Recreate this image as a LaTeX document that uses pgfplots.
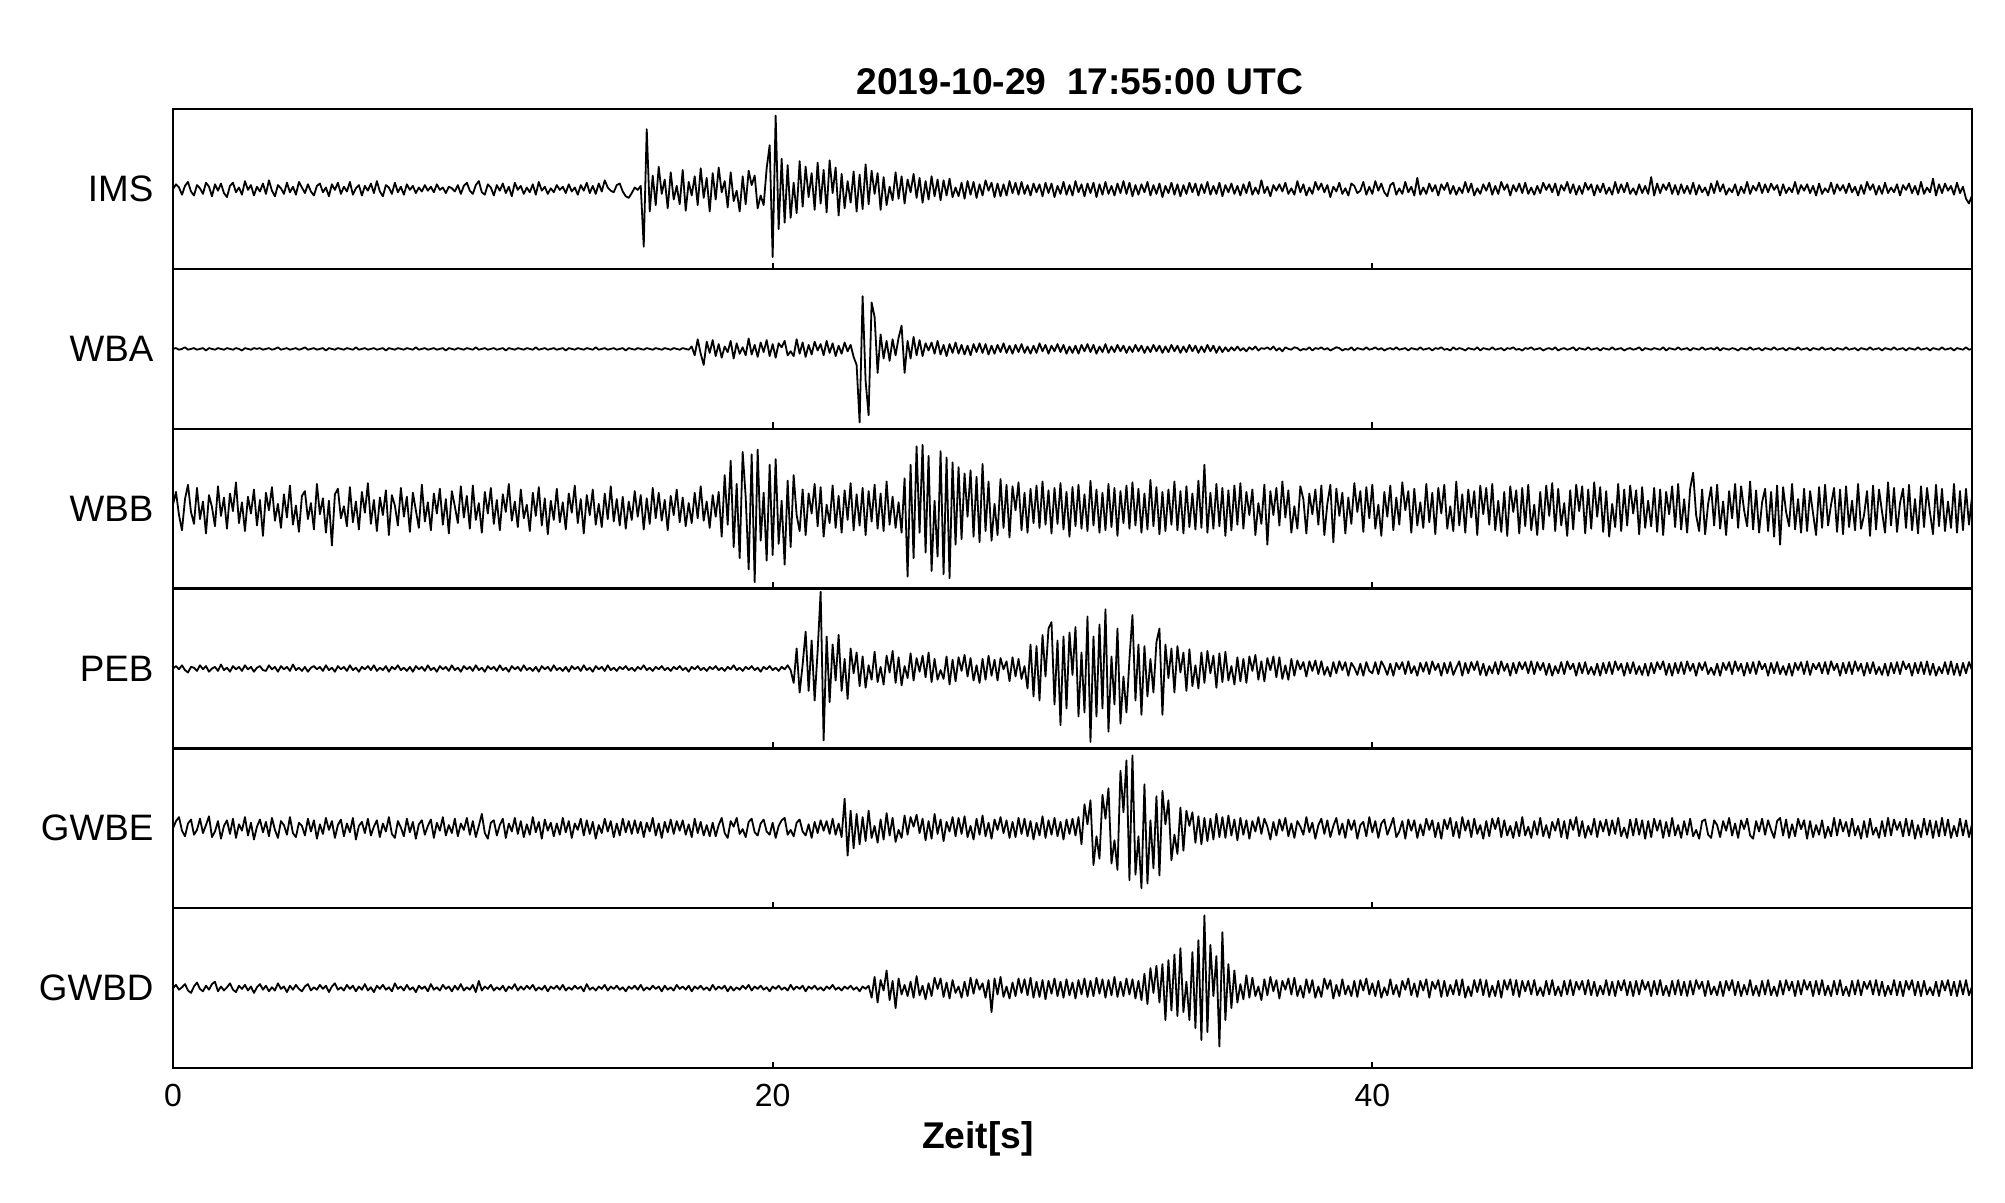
\documentclass[border=0pt]{standalone}
\usepackage{pgfplots}
\usepackage{pgfplotstable}
\pgfplotsset{compat=1.18}
\usepackage{fontspec}
\setmainfont{Liberation Sans}

% seismogram samples, every 0.1 s, amplitudes in % of half panel height
\pgfplotstableread{
t ims wba wbb peb gwbe gwbd
0.0 0 0 5 0 0 0
0.1 6 1 21 3 9 4
0.2 2 -1 -8 -1 14 -2
0.3 -7 0 -27 4 -3 1
0.4 4 2 12 -2 -10 5
0.5 9 -1 30 -5 6 -3
0.6 -3 0 -4 2 11 -6
0.7 -8 1 -19 1 -8 2
0.8 5 -1 26 -3 -2 7
0.9 1 0 -13 4 12 -1
1.0 -6 1 9 -1 -6 -4
1.1 8 -2 -31 3 4 3
1.2 3 1 17 -4 15 -2
1.3 -9 0 2 0 -11 5
1.4 6 -1 -22 2 -4 8
1.5 -2 1 28 -3 9 -4
1.6 7 0 -9 5 -13 2
1.7 -5 -1 14 -2 3 -3
1.8 -10 1 -25 1 10 1
1.9 4 0 19 -4 -7 6
2.0 8 -1 -3 3 12 -2
2.1 -4 1 33 -1 -12 -5
2.2 2 0 -18 2 5 3
2.3 -7 -2 8 -3 -3 -1
2.4 10 1 -28 4 14 4
2.5 -1 0 15 -1 -9 -3
2.6 5 -1 -6 2 7 2
2.7 -8 1 24 -4 -14 -6
2.8 3 0 -21 1 2 1
2.9 -3 1 11 3 11 5
3.0 7 -1 -34 -2 -5 -2
3.1 -6 0 20 -3 8 3
3.2 11 1 -2 4 -10 -4
3.3 -2 -1 27 -1 13 1
3.4 -9 0 -15 2 -2 -3
3.5 5 2 6 -4 -12 6
3.6 1 -1 -24 3 9 -1
3.7 -6 0 18 -1 4 2
3.8 8 1 -11 2 -8 -5
3.9 -4 -1 29 -3 14 3
4.0 3 0 -20 5 -6 -2
4.1 -7 1 4 -2 -11 4
4.2 9 -1 -29 1 7 -1
4.3 2 0 16 -3 3 -4
4.4 -5 2 22 2 -9 2
4.5 6 -1 -13 -4 12 5
4.6 -3 0 7 1 -4 -3
4.7 -8 1 -26 3 10 1
4.8 4 -1 31 -1 -13 -2
4.9 7 0 -7 2 5 4
5.0 -4 1 13 -3 -7 -1
5.1 2 -2 -30 4 13 3
5.2 -9 1 10 -2 -2 -5
5.3 6 0 -46 1 9 2
5.4 -1 -1 18 -4 -12 6
5.5 8 1 25 3 4 -2
5.6 -6 0 -12 -1 11 1
5.7 3 -1 3 2 -10 -3
5.8 -3 1 -22 -3 6 4
5.9 9 0 27 4 -5 -1
6.0 -7 -1 -17 -2 13 3
6.1 1 2 9 1 -14 -4
6.2 5 -1 -26 -4 3 2
6.3 -8 0 21 2 8 -2
6.4 4 1 -5 -1 -6 5
6.5 -2 -1 32 3 12 -3
6.6 7 0 -19 -2 -9 1
6.7 -5 1 11 4 2 -5
6.8 10 -1 -28 -3 10 3
6.9 -3 0 14 1 -11 -1
7.0 -9 1 -8 -2 6 4
7.1 5 -2 23 3 -4 -2
7.2 2 1 -33 -4 14 1
7.3 -6 0 17 2 -7 -4
7.4 8 -1 4 -1 -12 6
7.5 -4 1 -21 4 9 -1
7.6 3 0 26 -2 1 2
7.7 -7 -1 -10 1 -10 -3
7.8 6 1 15 -3 12 4
7.9 -1 0 -29 2 -5 -2
8.0 4 -1 20 -4 8 1
8.1 -5 2 -2 3 -13 -5
8.2 2 -1 -24 -1 5 3
8.3 -3 0 30 2 10 -1
8.4 5 1 -16 -3 -8 2
8.5 -2 -1 8 4 3 -4
8.6 3 0 -27 -2 11 5
8.7 -4 1 19 1 -12 -2
8.8 6 -1 -6 -4 7 1
8.9 -1 0 25 3 -3 -3
9.0 2 1 -20 -1 14 4
9.1 -5 -2 12 2 -9 -1
9.2 3 1 -31 -3 4 2
9.3 1 0 22 4 -6 -4
9.4 -3 -1 3 -2 12 3
9.5 5 1 -18 1 -10 -2
9.6 -6 0 28 -4 6 5
9.7 4 -1 -11 3 -2 -3
9.8 8 1 16 -1 13 1
9.9 -2 0 -25 2 -8 -2
10.0 -6 -1 29 -3 9 4
10.1 5 2 -14 4 -11 -5
10.2 10 -1 7 -2 3 9
10.3 -4 0 -30 1 18 -3
10.4 -7 1 21 -4 -6 2
10.5 6 -1 -6 3 -13 -1
10.6 2 0 26 -1 7 4
10.7 -8 1 -19 2 10 -3
10.8 5 -1 11 -3 -9 1
10.9 -2 0 -27 4 4 -2
11.0 7 1 18 -2 12 3
11.1 -5 -2 -4 1 -12 -4
11.2 3 1 31 -4 6 2
11.3 -9 0 -15 3 -4 -1
11.4 8 -1 9 -1 13 5
11.5 -1 1 -23 2 -7 -3
11.6 4 0 24 -3 9 2
11.7 -6 -1 -12 4 -11 -2
11.8 2 1 5 -2 5 3
11.9 -4 0 -28 1 -8 -1
12.0 6 -1 20 -3 14 4
12.1 -7 2 -9 2 -5 -3
12.2 9 -1 27 -4 8 1
12.3 -2 0 -21 3 -13 -2
12.4 3 1 13 -1 11 3
12.5 -6 -1 -32 2 -3 -4
12.6 1 0 10 -3 7 2
12.7 -4 1 -14 4 -10 -1
12.8 5 -1 25 -2 6 3
12.9 -1 0 -17 1 -8 -2
13.0 3 1 8 -3 13 4
13.1 -5 -2 -26 2 -5 -3
13.2 6 1 19 -4 9 1
13.3 -3 0 -5 3 -12 -2
13.4 2 -1 29 -1 6 3
13.5 -7 1 -18 2 -2 -1
13.6 5 0 12 -3 12 2
13.7 -2 -1 -31 4 -9 -4
13.8 8 1 17 -2 10 5
13.9 -5 0 -8 1 -7 -2
14.0 4 -1 24 -4 8 1
14.1 -6 2 -20 3 -13 -3
14.2 7 -1 6 -1 4 2
14.3 -3 0 -23 2 -6 -1
14.4 11 1 19 -3 12 4
14.5 2 -1 -13 4 -4 -3
14.6 -2 0 28 -2 9 2
14.7 -4 1 -16 1 -11 -1
14.8 5 -1 12 -3 6 3
14.9 7 0 -21 2 -9 -2
15.0 -3 1 15 -1 12 1
15.1 -9 -2 -25 3 -5 -4
15.2 -11 1 9 -2 9 2
15.3 -5 0 -14 1 -7 -1
15.4 2 -1 22 -3 10 3
15.5 -1 1 -10 2 -6 -2
15.6 4 0 17 -1 8 4
15.7 -72 -1 -26 4 -11 -3
15.8 75 1 13 -2 7 1
15.9 -28 0 -19 1 -4 -2
16.0 17 -1 26 -3 13 3
16.1 -20 1 -12 2 -9 -1
16.2 28 0 20 -1 6 2
16.3 -6 -1 -15 3 -12 -4
16.4 12 1 11 -2 8 3
16.5 -24 0 -27 1 -5 -2
16.6 21 -1 16 -3 11 1
16.7 -13 1 -8 2 -7 -3
16.8 4 0 24 -1 9 4
16.9 -19 -1 -17 3 -3 -1
17.0 24 1 14 -2 10 2
17.1 -27 0 -22 1 -8 -2
17.2 9 -1 7 -4 5 3
17.3 -8 3 -18 2 -11 -4
17.4 16 -8 20 -1 12 2
17.5 -20 12 -12 3 -6 -1
17.6 26 -6 28 -2 8 3
17.7 -11 -20 -15 1 -9 -2
17.8 14 9 9 -3 4 1
17.9 -28 -5 -24 2 -10 -3
18.0 20 11 17 -1 7 4
18.1 -13 -9 -10 3 -10 -2
18.2 27 6 21 -2 4 2
18.3 -4 -11 -35 1 13 -1
18.4 10 3 42 -3 -6 3
18.5 -23 -4 -20 2 -12 -4
18.6 21 10 60 -1 9 2
18.7 -15 -12 -48 4 2 -3
18.8 -2 7 31 -2 13 1
18.9 -28 -6 -62 1 -7 -2
19.0 16 2 71 -3 -1 3
19.1 -19 -8 15 2 -11 -1
19.2 23 13 -76 -1 8 4
19.3 5 -7 68 3 12 -3
19.4 17 5 -92 -2 -5 2
19.5 -24 -10 74 1 -9 -1
19.6 -8 8 -40 -4 6 3
19.7 -20 -4 20 2 11 -2
19.8 26 11 -65 -1 -4 1
19.9 55 -9 55 3 -8 -4
20.0 -85 6 -58 -2 7 2
20.1 92 -11 62 1 -12 -1
20.2 -50 7 -44 -3 3 3
20.3 38 2 10 2 10 -2
20.4 -42 10 -70 -1 13 1
20.5 30 -8 35 4 -8 -3
20.6 -36 -3 -48 -2 -2 4
20.7 8 -9 42 -18 -10 -2
20.8 -30 12 -8 25 7 2
20.9 35 -6 -28 -30 11 -1
21.0 -22 8 24 5 -4 3
21.1 28 -10 -33 46 -9 -4
21.2 -10 5 19 -28 5 2
21.3 20 -7 -6 35 -12 -1
21.4 -26 9 31 -40 8 3
21.5 33 -2 -22 22 -6 -2
21.6 -18 6 27 96 10 1
21.7 24 -8 -35 -90 -3 -3
21.8 -29 10 5 40 9 2
21.9 36 -5 -18 -42 -7 -1
22.0 -5 7 29 30 12 4
22.1 27 -9 -24 -15 -8 -2
22.2 -33 4 16 42 6 1
22.3 19 -6 -30 -28 -11 -3
22.4 -24 8 23 12 37 2
22.5 10 -3 -14 -38 -34 -1
22.6 -17 5 32 25 22 3
22.7 22 -10 -27 -6 -25 -2
22.8 -28 -20 18 20 18 1
22.9 18 -92 -21 -22 -20 -4
23.0 -25 66 26 15 14 2
23.1 31 -40 -33 -24 -16 -1
23.2 -19 -83 22 4 22 3
23.3 23 58 -16 -14 -12 -12
23.4 -6 40 30 21 3 14
23.5 20 -30 -25 -17 -18 -18
23.6 -26 18 19 2 11 10
23.7 15 -12 -28 -20 -14 -3
23.8 -20 10 34 16 19 22
23.9 3 -15 -20 -5 -9 -15
24.0 -14 12 15 22 13 9
24.1 21 -8 -24 -18 -17 -25
24.2 -12 14 8 14 -2 12
24.3 16 29 -30 -21 -12 -8
24.4 -18 -30 38 3 16 4
24.5 12 10 -85 -12 -8 -10
24.6 -4 -12 55 19 14 8
24.7 19 15 -62 -15 2 -12
24.8 -11 -8 78 13 17 15
24.9 14 11 -30 -4 -6 -9
25.0 -17 -9 80 16 12 3
25.1 10 7 -55 -11 -15 -14
25.2 -13 -2 66 20 9 6
25.3 16 8 -78 -17 -13 -10
25.4 -9 -6 10 12 18 13
25.5 12 10 -60 -14 -7 -1
25.6 -14 -7 72 -2 11 12
25.7 11 5 -82 -13 -16 -11
25.8 -8 -9 64 15 8 7
25.9 13 6 -87 -20 -4 -13
26.0 -10 -5 58 11 14 10
26.1 2 8 -45 -16 -10 -6
26.2 -9 -6 52 14 13 2
26.3 8 5 -38 -3 -7 -12
26.4 -12 -7 44 17 15 8
26.5 10 4 -10 -10 -11 -10
26.6 -7 -8 48 13 3 13
26.7 9 6 -35 -15 -14 -7
26.8 -11 -4 40 4 12 11
26.9 6 7 -42 -18 -8 -2
27.0 -8 -5 56 12 16 6
27.1 11 6 -28 -14 -10 -12
27.2 -2 -7 34 16 7 10
27.3 8 4 -40 -9 -13 -30
27.4 -10 -6 6 11 11 12
27.5 7 5 -33 -15 -2 -8
27.6 -9 -4 37 13 14 14
27.7 6 7 -24 -1 -6 -11
27.8 -8 -5 30 9 10 2
27.9 10 4 -36 -16 -12 -13
28.0 -5 -6 28 14 8 7
28.1 8 5 -2 -10 -11 -10
28.2 -7 -4 33 12 13 12
28.3 9 6 -27 -13 -7 -6
28.4 -6 -5 20 3 12 11
28.5 5 3 -30 -25 -10 -9
28.6 -8 -6 25 30 9 13
28.7 7 4 -18 -35 -14 -12
28.8 -4 -5 29 28 7 8
28.9 6 7 -24 -40 -9 -11
29.0 -9 -3 34 42 15 10
29.1 8 5 -20 -10 -12 -14
29.2 -5 -6 23 50 10 9
29.3 7 4 -31 58 -8 -7
29.4 -10 -3 26 -45 13 12
29.5 4 6 -19 35 -10 -10
29.6 -6 -4 32 -71 8 8
29.7 9 5 -26 40 -14 -12
29.8 -7 -6 21 -50 11 11
29.9 5 3 -35 45 -7 -9
30.0 -8 -5 27 -8 12 7
30.1 10 4 -22 52 -9 -13
30.2 -4 -6 30 -60 14 10
30.3 6 5 -25 20 -20 -8
30.4 -9 -3 18 -55 30 12
30.5 7 6 -28 65 5 -11
30.6 -5 -4 35 -92 35 9
30.7 8 5 -21 40 -46 -10
30.8 -10 -6 24 -60 -10 13
30.9 6 3 -30 55 -38 -7
31.0 -7 -4 20 -50 42 11
31.1 9 6 -27 74 12 -12
31.2 -6 -5 31 -79 50 10
31.3 4 3 -23 15 -44 -9
31.4 -8 -4 26 -45 -15 14
31.5 7 5 -34 50 -52 -11
31.6 -5 -3 22 -69 72 8
31.7 10 4 -18 -10 20 -10
31.8 -6 -5 29 -55 85 12
31.9 8 3 -25 12 -65 -8
32.0 -9 -4 33 67 91 11
32.1 5 5 -21 -40 -58 -13
32.2 -7 -3 25 30 -10 9
32.3 6 4 -30 -58 -75 -15
32.4 -4 -5 19 28 55 18
32.5 9 3 -26 -35 -69 -20
32.6 -8 -4 36 12 10 25
32.7 5 5 -22 -30 -50 -6
32.8 -6 -3 27 33 40 28
32.9 7 4 -32 50 -59 -18
33.0 -10 -5 21 -58 47 30
33.1 4 3 -28 30 5 -40
33.2 -5 -4 24 -12 35 35
33.3 8 5 -20 25 -40 -28
33.4 -7 -3 34 -30 -8 42
33.5 6 4 -27 28 -32 -35
33.6 -9 -5 22 -5 26 50
33.7 5 3 -31 20 -28 -30
33.8 -6 -4 28 -28 22 8
33.9 8 5 -23 24 3 -40
34.0 -4 -3 19 -22 20 45
34.1 7 4 -26 4 -18 -50
34.2 -8 -5 35 -25 15 60
34.3 6 3 -24 20 -20 -65
34.4 -5 -4 55 -18 13 91
34.5 9 5 -30 22 -16 -55
34.6 -7 -3 20 -6 12 54
34.7 4 4 -25 16 -14 -10
34.8 -6 -5 31 -24 18 40
34.9 8 3 -22 19 -11 -73
35.0 -9 -4 26 -17 14 70
35.1 5 2 -34 21 -12 -40
35.2 -4 -3 23 -15 16 30
35.3 7 2 -27 3 -9 -25
35.4 -6 -2 29 -20 11 22
35.5 4 3 -20 14 -15 -18
35.6 -8 -2 32 -16 13 5
35.7 6 1 -25 12 -8 -14
35.8 -5 -3 21 -18 10 16
35.9 9 2 -8 15 -13 -12
36.0 -7 -1 24 -3 9 13
36.1 2 3 -33 17 -4 -10
36.2 -6 -2 7 -14 14 2
36.3 11 1 -19 9 -7 -15
36.4 -5 0 30 -16 12 11
36.5 3 2 -45 13 2 -9
36.6 -9 -1 22 -2 -14 14
36.7 5 3 -8 15 8 -4
36.8 -2 -2 26 -11 -9 10
36.9 6 1 -21 14 11 -13
37.0 -3 -3 34 -13 -3 9
37.1 8 2 -11 4 13 -2
37.2 -6 0 23 -14 -10 12
37.3 1 -1 -30 12 6 -8
37.4 -7 2 3 -9 -12 13
37.5 10 1 -25 10 9 -10
37.6 -4 -2 28 -1 2 3
37.7 6 0 12 8 -8 -12
37.8 -8 -1 -31 -10 14 11
37.9 2 2 19 9 -5 -6
38.0 -6 -2 -7 -3 7 10
38.1 9 1 24 10 -13 -12
38.2 -1 0 -20 -7 4 2
38.3 7 2 29 9 12 -11
38.4 -4 -1 -33 -8 -7 12
38.5 5 1 6 2 10 -1
38.6 -10 -2 30 -10 -11 10
38.7 3 0 -42 8 3 -13
38.8 -3 2 25 -6 13 4
38.9 8 1 -9 9 -8 -10
39.0 -6 -2 20 -2 6 11
39.1 1 0 -31 8 -12 -8
39.2 -8 -1 14 -9 11 3
39.3 7 2 -19 7 -2 -10
39.4 4 -2 32 1 10 9
39.5 -5 1 -4 -8 -13 -11
39.6 -2 0 22 6 4 10
39.7 9 -1 -29 -9 8 -3
39.8 -7 2 27 8 -10 12
39.9 3 -1 -12 -3 14 -8
40.0 -6 0 30 -6 -5 6
40.1 10 2 -25 8 9 -10
40.2 -2 -1 5 -7 -12 9
40.3 7 1 -34 9 6 -12
40.4 -4 -2 21 2 11 1
40.5 -9 0 -10 -8 -8 -9
40.6 5 1 29 6 2 11
40.7 8 -1 -27 -9 13 -8
40.8 -7 2 14 7 -11 4
40.9 1 -1 -20 -1 -4 -11
41.0 -6 0 33 8 9 9
41.1 9 1 -2 -7 -13 -2
41.2 -4 -2 22 9 11 12
41.3 3 1 -30 -6 -3 -9
41.4 -8 0 25 3 10 6
41.5 14 -1 -21 -9 -12 -11
41.6 -7 2 8 7 5 9
41.7 2 -1 -24 -4 -9 -3
41.8 -6 0 31 8 12 11
41.9 7 1 -17 -7 -2 -12
42.0 -3 -2 20 9 10 8
42.1 5 1 -32 -2 -11 -1
42.2 -8 0 26 6 7 10
42.3 6 2 -6 -9 -13 -11
42.4 -1 -1 30 7 11 9
42.5 8 0 -25 -6 -1 -10
42.6 -6 -2 3 8 13 4
42.7 4 2 -28 -8 -10 -8
42.8 -7 -1 34 1 8 10
42.9 2 1 -21 9 -12 -9
43.0 -5 0 18 -9 14 11
43.1 9 -2 -30 7 -3 -12
43.2 -4 1 24 -6 10 2
43.3 7 0 -11 8 -11 -10
43.4 -8 -1 22 -2 12 10
43.5 1 2 -33 9 -7 -5
43.6 -6 -2 29 -8 4 11
43.7 6 1 -7 6 -13 -9
43.8 -2 0 26 -9 9 10
43.9 8 -1 -20 3 -10 -11
44.0 -7 2 31 -6 12 3
44.1 4 -1 -27 8 -1 -10
44.2 -6 0 10 -7 13 9
44.3 9 1 -29 9 -11 -12
44.4 -1 -2 21 -3 10 10
44.5 6 1 -34 6 -9 -2
44.6 -8 0 28 -9 3 11
44.7 5 2 -4 7 -12 -9
44.8 -3 -1 23 -6 8 10
44.9 7 0 -31 8 -10 -11
45.0 -5 -2 26 -1 14 9
45.1 8 1 -22 8 -9 -4
45.2 -6 0 30 -6 2 9
45.3 2 2 -27 9 -12 -8
45.4 -7 -1 5 -7 9 10
45.5 4 0 -33 8 -8 -9
45.6 -5 1 21 -2 13 1
45.7 8 -2 -26 7 -10 -10
45.8 -1 0 29 -8 4 9
45.9 6 1 -9 6 -12 -8
46.0 -4 -1 32 -9 8 10
46.1 7 2 -28 3 -3 -9
46.2 -8 -2 25 -6 12 2
46.3 5 0 -21 8 -11 -10
46.4 -2 1 7 -7 9 9
46.5 9 -1 -34 9 -13 -8
46.6 -5 0 23 -1 11 10
46.7 6 2 -26 6 -2 -9
46.8 -7 -2 30 -9 14 8
46.9 4 1 -3 7 -10 -2
47.0 -6 0 28 -6 9 9
47.1 8 -1 -31 8 -12 -8
47.2 -1 2 24 -7 3 10
47.3 6 -1 -25 2 -8 -9
47.4 -8 0 33 -8 12 8
47.5 5 1 -10 6 -11 -10
47.6 -4 -2 27 -9 9 3
47.7 7 1 -29 7 -4 -8
47.8 -6 0 22 -6 11 10
47.9 2 -1 -35 8 -9 -9
48.0 -7 2 6 -7 10 8
48.1 9 -1 -23 9 -7 -10
48.2 -5 0 31 -2 13 9
48.3 6 1 -28 6 -10 -3
48.4 -4 -2 24 -9 1 10
48.5 8 0 -21 7 -12 -9
48.6 -6 1 29 -6 11 8
48.7 1 -1 -6 8 -9 -10
48.8 -7 0 23 -7 12 9
48.9 6 2 -32 3 -8 -8
49.0 -5 -2 27 -8 10 10
49.1 4 1 -24 6 -13 -2
49.2 -6 0 10 -9 9 8
49.3 15 -1 -22 7 -11 -10
49.4 -8 1 26 -6 12 9
49.5 7 0 -29 8 -3 -8
49.6 -5 -1 24 -1 10 10
49.7 6 2 -33 9 -12 -9
49.8 -1 -2 21 -8 8 3
49.9 8 1 -7 6 -10 -10
50.0 -6 0 28 -9 13 9
50.1 5 -1 -23 7 -9 -8
50.2 -7 2 31 -6 4 10
50.3 6 -1 -26 8 -12 -9
50.4 -5 0 12 -7 9 8
50.5 4 1 -30 9 -8 -10
50.6 -6 -2 25 -3 12 9
50.7 8 1 45 6 -10 -8
50.8 -7 0 -8 -9 -2 10
50.9 5 -1 -28 7 -13 -1
51.0 -4 2 24 -2 9 8
51.1 2 -1 -32 8 11 -10
51.2 -8 0 6 -7 -8 9
51.3 7 1 27 1 -12 -8
51.4 -5 -1 -21 -8 10 2
51.5 10 2 30 6 4 -9
51.6 -3 -2 -25 -9 -11 8
51.7 6 1 9 7 9 -10
51.8 -7 0 -33 -2 -3 9
51.9 1 -1 22 8 13 -3
52.0 -4 1 -12 -7 -9 10
52.1 6 0 31 9 6 -9
52.2 -8 -2 -24 -3 -12 8
52.3 3 1 28 6 10 -10
52.4 -5 0 -2 -9 -1 4
52.5 9 -1 -22 7 12 -8
52.6 -6 2 34 -6 -9 10
52.7 4 -1 -26 8 -13 -9
52.8 -2 0 23 -7 9 3
52.9 8 1 -30 9 -4 -10
53.0 -5 -2 8 -1 12 9
53.1 6 1 25 6 -8 -8
53.2 -4 0 -28 -9 10 10
53.3 7 -1 21 7 -2 -9
53.4 -1 2 -35 -6 -12 2
53.5 5 -1 29 8 9 -10
53.6 -8 0 -45 -7 13 9
53.7 6 1 27 3 -9 -8
53.8 -5 -2 -4 -8 11 10
53.9 2 1 -22 6 -12 -3
54.0 -4 0 31 -9 5 8
54.1 9 -1 -26 7 -10 -10
54.2 -6 2 12 -2 12 9
54.3 5 -1 -30 8 -1 -8
54.4 -2 0 25 -7 10 10
54.5 6 1 -28 9 -13 -2
54.6 -5 -2 22 -8 9 8
54.7 4 1 -6 6 -11 -10
54.8 -8 0 -33 -1 4 9
54.9 7 -1 27 7 -8 -8
55.0 -6 2 -24 -6 10 10
55.1 1 -1 30 8 -12 -9
55.2 -4 0 -21 -7 2 3
55.3 8 1 5 9 -10 -10
55.4 -6 -2 26 -2 13 9
55.5 6 1 -29 6 -9 -8
55.6 -2 0 24 -9 11 10
55.7 5 -1 -32 7 -4 -9
55.8 -5 2 28 -6 8 2
55.9 7 -1 -23 8 -10 -10
56.0 -4 0 10 -7 12 9
56.1 3 1 -27 9 -9 -8
56.2 -8 -2 31 -3 3 10
56.3 5 1 -25 6 -13 -9
56.4 -6 0 -8 -9 9 8
56.5 9 -1 22 7 -11 -1
56.6 -1 2 -34 -6 12 9
56.7 6 -1 29 8 -8 -8
56.8 -7 0 -26 -7 1 10
56.9 4 1 24 2 -12 -9
57.0 -6 -2 -4 -8 9 8
57.1 8 1 -30 6 -10 -10
57.2 -5 0 33 -9 13 3
57.3 2 -1 -21 7 -9 -8
57.4 -4 2 26 -6 11 10
57.5 6 -1 -29 8 -2 -9
57.6 -8 0 7 -7 8 8
57.7 5 1 25 9 -10 -10
57.8 -1 -2 -24 -1 12 9
57.9 7 1 30 6 -9 -2
58.0 -5 0 -27 -9 10 10
58.1 4 -1 12 7 -13 -9
58.2 -7 2 -31 -6 4 8
58.3 9 -1 28 8 -11 -10
58.4 -6 0 -23 -7 12 9
58.5 2 1 26 9 -8 -8
58.6 -4 -2 -5 -8 10 1
58.7 13 1 -32 6 -12 -9
58.8 -8 0 30 -9 9 8
58.9 6 -1 -22 2 -10 -10
59.0 -5 2 25 -6 13 9
59.1 7 -1 -28 8 -9 -3
59.2 -2 0 9 -7 11 10
59.3 4 1 -24 9 -12 -9
59.4 -7 -2 31 -8 3 8
59.5 8 1 -30 6 -10 -10
59.6 -5 0 22 -9 12 9
59.7 3 -1 -27 7 -9 -8
59.8 -12 2 25 -6 10 10
59.9 -18 -1 -20 8 -11 -9
60.0 -8 0 15 -2 5 2
}\seis

\pgfplotsset{
  trace/.style={
    scale only axis,
    width=449.75pt, height=39.95pt,
    anchor=south west,
    xmin=0, xmax=60, ymin=-100, ymax=100,
    axis line style={line width=0.55pt},
    xtick={0,20,40}, xticklabels={},
    ytick=\empty,
    xtick pos=lower,
    tick align=inside,
    major tick length=1.6pt,
    tick style={line width=0.55pt, black},
    clip=true,
  },
  seis/.style={black, line width=0.45pt, no markers, line join=round},
}

\newcommand{\station}[1]{\node[anchor=east, inner sep=0pt, xshift=-4.7pt, font=\fontsize{9.2}{11}\selectfont] at (rel axis cs:0,0.5) {#1};}

\begin{document}
\begin{tikzpicture}
\path[use as bounding box] (0,0) rectangle (501.25pt,300.5pt);

\begin{axis}[trace, at={(43.25pt,233.25pt)}, clip mode=individual]
  \addplot[seis] table[x=t, y=ims] {\seis};
  \station{IMS}
  \node[anchor=base, inner sep=0pt, yshift=3.6pt, font=\fontsize{9.3}{11}\selectfont\bfseries] at (rel axis cs:0.504,1) {2019-10-29\ \ 17:55:00 UTC};
\end{axis}

\begin{axis}[trace, at={(43.25pt,193.3pt)}, clip mode=individual]
  \addplot[seis] table[x=t, y=wba] {\seis};
  \station{WBA}
\end{axis}

\begin{axis}[trace, at={(43.25pt,153.35pt)}, clip mode=individual]
  \addplot[seis] table[x=t, y=wbb] {\seis};
  \station{WBB}
\end{axis}

\begin{axis}[trace, at={(43.25pt,113.4pt)}, clip mode=individual]
  \addplot[seis] table[x=t, y=peb] {\seis};
  \station{PEB}
\end{axis}

\begin{axis}[trace, at={(43.25pt,73.45pt)}, clip mode=individual]
  \addplot[seis] table[x=t, y=gwbe] {\seis};
  \station{GWBE}
\end{axis}

\begin{axis}[trace, at={(43.25pt,33.5pt)}, clip mode=individual,
    xticklabels={0,20,40},
    xticklabel style={font=\fontsize{8}{9}\selectfont, yshift=-0.6pt},
    /pgf/number format/assume math mode=true]
  \addplot[seis] table[x=t, y=gwbd] {\seis};
  \station{GWBD}
  \node[anchor=base, inner sep=0pt, yshift=-20pt, font=\fontsize{9.3}{11}\selectfont\bfseries] at (rel axis cs:0.4475,0) {Zeit[s]};
\end{axis}
\end{tikzpicture}
\end{document}
